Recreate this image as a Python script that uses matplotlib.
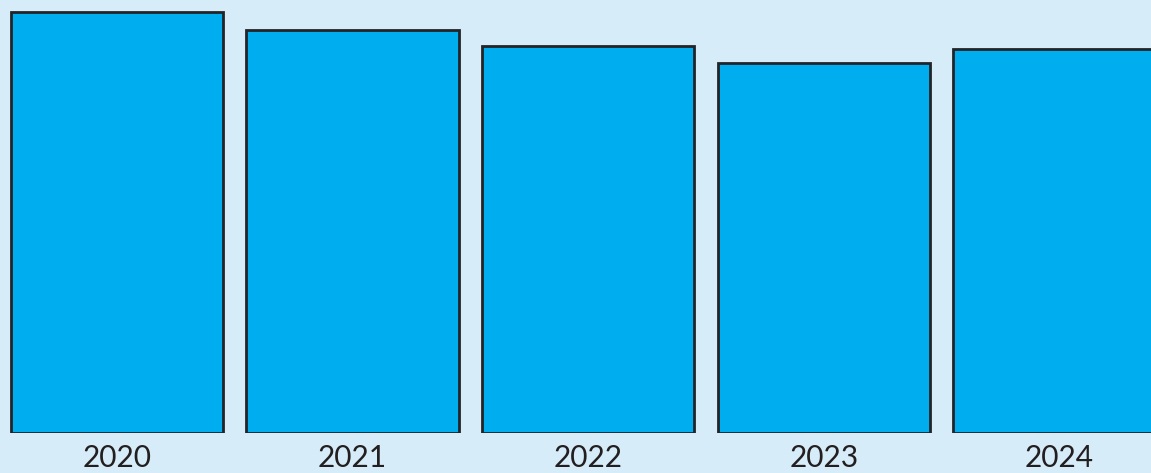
import matplotlib
matplotlib.use("Agg")
import matplotlib.pyplot as plt

years = ["2020", "2021", "2022", "2023", "2024"]
values = [421, 402.5, 387, 370.3, 383.5]

BG = "#d6ecf9"
BAR = "#00adef"
EDGE = "#222428"

W, H = 1151, 473
fig = plt.figure(figsize=(W / 100, H / 100), dpi=100, facecolor=BG)
bottom_px = 433
ax = fig.add_axes([0, (H - bottom_px) / H, 1, bottom_px / H])
ax.set_facecolor(BG)

step = 235.6
c0 = 117.0
x = list(range(len(years)))
ax.bar(x, values, width=212.5 / step, color=BAR, edgecolor=EDGE, linewidth=2.0, zorder=2)

ax.set_xlim(-c0 / step, (W - c0) / step)
ax.set_ylim(0, bottom_px)
for s in ax.spines.values():
    s.set_visible(False)
ax.set_yticks([])
ax.set_xticks(x)
ax.set_xticklabels(years, fontsize=21.5, color="#231f20", family=["Lato", "DejaVu Sans"])
ax.tick_params(axis="x", length=0, pad=8)
for lbl in ax.get_xticklabels():
    lbl.set_clip_on(False)

fig.savefig("out.png", dpi=100, facecolor=BG)
